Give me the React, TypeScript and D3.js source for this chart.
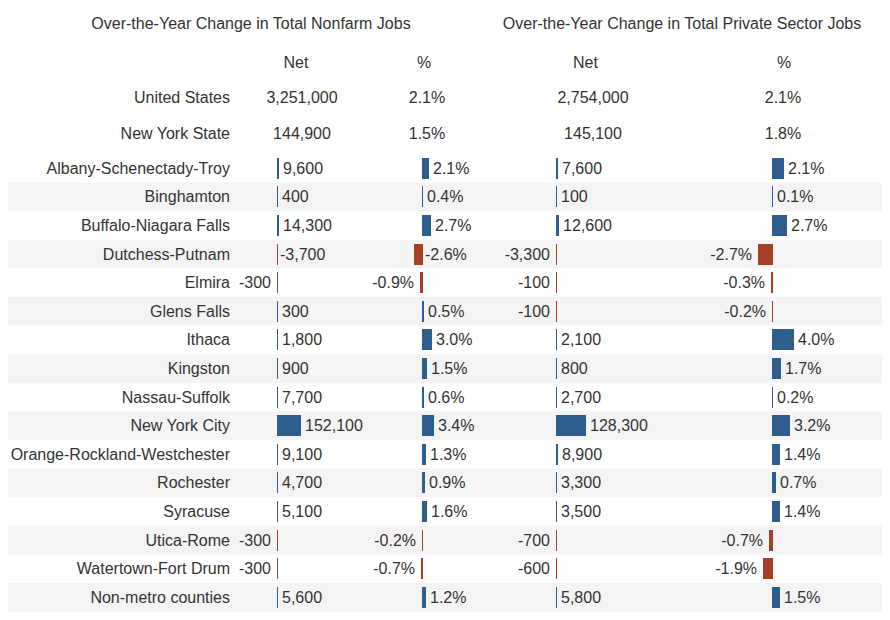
import React from "react";
import * as d3 from "d3";

const regions = [
  "Albany-Schenectady-Troy", "Binghamton", "Buffalo-Niagara Falls", "Dutchess-Putnam",
  "Elmira", "Glens Falls", "Ithaca", "Kingston", "Nassau-Suffolk", "New York City",
  "Orange-Rockland-Westchester", "Rochester", "Syracuse", "Utica-Rome",
  "Watertown-Fort Drum", "Non-metro counties",
];
const nonfarmNet = [9600, 400, 14300, -3700, -300, 300, 1800, 900, 7700, 152100, 9100, 4700, 5100, -300, -300, 5600];
const nonfarmPct = [2.1, 0.4, 2.7, -2.6, -0.9, 0.5, 3.0, 1.5, 0.6, 3.4, 1.3, 0.9, 1.6, -0.2, -0.7, 1.2];
const privateNet = [7600, 100, 12600, -3300, -100, -100, 2100, 800, 2700, 128300, 8900, 3300, 3500, -700, -600, 5800];
const privatePct = [2.1, 0.1, 2.7, -2.7, -0.3, -0.2, 4.0, 1.7, 0.2, 3.2, 1.4, 0.7, 1.4, -0.7, -1.9, 1.5];

const summaryLabels = ["United States", "New York State"];
const summaryNonfarmNet = [3251000, 144900];
const summaryNonfarmPct = [2.1, 1.5];
const summaryPrivateNet = [2754000, 145100];
const summaryPrivatePct = [2.1, 1.8];

const titles = ["Over-the-Year Change in Total Nonfarm Jobs", "Over-the-Year Change in Total Private Sector Jobs"];
const colHeaders = ["Net", "%", "Net", "%"];
// Panel 1 places Dutchess-Putnam labels on the right side of the axis
const labelRightInPanel1 = ["Dutchess-Putnam"];

const locale = d3.formatLocale({ decimal: ".", thousands: ",", grouping: [3], currency: ["$", ""], minus: "-" });
const fmtNet = locale.format(",");
const fmtPctNum = locale.format(".1f");
const fmtPct = (v: number) => fmtPctNum(v) + "%";

const W = 890;
const H = 620;
const BLUE = "#2d5e8e";
const RED = "#a53f27";
const TEXT = "#333333";
const FONT = "'Liberation Sans', Arial, sans-serif";

export default function App() {
  const y = d3.scaleBand<string>().domain(regions).range([154, 154 + 16 * 28.6]).padding(0);
  const barH = 21;

  const columns = [
    { values: nonfarmNet, fmt: fmtNet, scale: d3.scaleLinear().domain([-152100, 152100]).range([253, 301]), panel: 1, headerX: 296, sumX: 302, sumVals: summaryNonfarmNet },
    { values: nonfarmPct, fmt: fmtPct, scale: d3.scaleLinear().domain([-4, 4]).range([408.4, 435.6]), panel: 1, headerX: 424, sumX: 427, sumVals: summaryNonfarmPct },
    { values: privateNet, fmt: fmtNet, scale: d3.scaleLinear().domain([-128300, 128300]).range([526, 586]), panel: 2, headerX: 585.5, sumX: 593, sumVals: summaryPrivateNet },
    { values: privatePct, fmt: fmtPct, scale: d3.scaleLinear().domain([-4, 4]).range([750, 794]), panel: 2, headerX: 784, sumX: 783, sumVals: summaryPrivatePct },
  ];

  const titleX = [251, 682];
  const sumY = [97, 133];

  return (
    <div style={{ position: "fixed", left: 0, top: 0 }}>
      <svg width={W} height={H} style={{ display: "block", background: "#ffffff" }} fontFamily={FONT} fontSize={16}>
        {regions.map((r, i) =>
          i % 2 === 1 ? (
            <rect key={"band" + r} x={8} y={y(r)!} width={874} height={y.bandwidth()} fill="#f4f4f4" />
          ) : null
        )}
        {titles.map((t, i) => (
          <text key={t} x={titleX[i]} y={23} textAnchor="middle" dominantBaseline="central" fill={TEXT}>{t}</text>
        ))}
        {columns.map((c, ci) => (
          <text key={"h" + ci} x={c.headerX} y={62} textAnchor="middle" dominantBaseline="central" fill={TEXT}>{colHeaders[ci]}</text>
        ))}
        {summaryLabels.map((s, si) => (
          <g key={s}>
            <text x={230} y={sumY[si]} textAnchor="end" dominantBaseline="central" fill={TEXT}>{s}</text>
            {columns.map((c, ci) => (
              <text key={ci} x={c.sumX} y={sumY[si]} textAnchor="middle" dominantBaseline="central" fill={TEXT}>{c.fmt(c.sumVals[si])}</text>
            ))}
          </g>
        ))}
        {regions.map((r, i) => {
          const cy = y(r)! + y.bandwidth() / 2;
          return (
            <g key={r}>
              <text x={230} y={cy} textAnchor="end" dominantBaseline="central" fill={TEXT}>{r}</text>
              {columns.map((c, ci) => {
                const v = c.values[i];
                const x0 = Math.round(c.scale(0));
                const x1 = c.scale(v);
                const w = Math.max(1, Math.round(Math.abs(x1 - x0)));
                const bx = v >= 0 ? x0 : x0 - w + 1;
                const color = v >= 0 ? BLUE : RED;
                const forceRight = c.panel === 1 && labelRightInPanel1.includes(r);
                let lx: number;
                let anchor: "start" | "end";
                if (v >= 0) {
                  lx = bx + w + 4;
                  anchor = "start";
                } else if (forceRight) {
                  lx = x0 + 3;
                  anchor = "start";
                } else {
                  lx = bx - 6;
                  anchor = "end";
                }
                return (
                  <g key={ci}>
                    <rect x={bx} y={Math.round(cy - barH / 2)} width={w} height={barH} fill={color} shapeRendering="crispEdges" />
                    <text x={lx} y={cy} textAnchor={anchor} dominantBaseline="central" fill={TEXT}>{c.fmt(v)}</text>
                  </g>
                );
              })}
            </g>
          );
        })}
      </svg>
    </div>
  );
}
